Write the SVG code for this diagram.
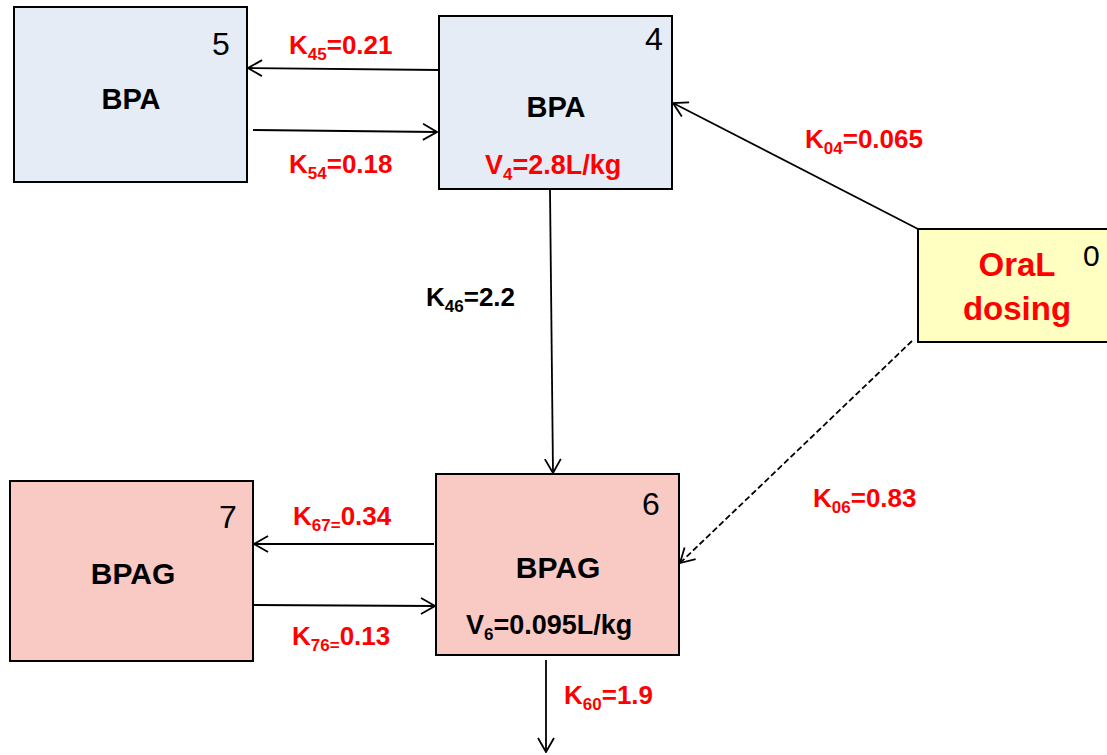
<svg xmlns="http://www.w3.org/2000/svg" width="1107" height="755" viewBox="0 0 1107 755">
<style>
.box{stroke:#000;stroke-width:2}
.blue{fill:#e6ecf5}
.pink{fill:#f9c9c4}
.yellow{fill:#ffffc1}
.t{font-family:"Liberation Sans",Arial,sans-serif;}
.name{font-size:29px;font-weight:bold;fill:#000;text-anchor:middle}
.num{font-size:32px;fill:#000}
.lbl{font-size:26px;font-weight:bold}
.red{fill:#ff0000}
.blk{fill:#000}
.sub{font-size:17px}
.ln{stroke:#000;stroke-width:1.8;fill:none}
.dash{stroke-dasharray:6,3}
</style>
<defs>
<marker id="arr" viewBox="0 0 16 18" refX="15" refY="9" markerWidth="16" markerHeight="18" markerUnits="userSpaceOnUse" orient="auto">
<path d="M1,1 L15,9 L1,17" fill="none" stroke="#000" stroke-width="1.8"/>
</marker>
</defs>
<rect width="1107" height="755" fill="#fff"/>
<g id="connectors">
<line class="ln" x1="439" y1="70" x2="248" y2="68" marker-end="url(#arr)"/>
<line class="ln" x1="253" y1="130" x2="437" y2="132" marker-end="url(#arr)"/>
<line class="ln" x1="550" y1="190" x2="553" y2="473" marker-end="url(#arr)"/>
<line class="ln" x1="918" y1="229" x2="673" y2="103" marker-end="url(#arr)"/>
<line class="ln dash" x1="912" y1="341" x2="680" y2="563" marker-end="url(#arr)"/>
<line class="ln" x1="434" y1="544" x2="254" y2="544" marker-end="url(#arr)"/>
<line class="ln" x1="253" y1="605" x2="435" y2="606" marker-end="url(#arr)"/>
<line class="ln" x1="546" y1="660" x2="546" y2="752" marker-end="url(#arr)"/>
</g>
<g id="labels" class="t">
<text class="lbl red" x="289" y="54">K<tspan class="sub" dy="6">45</tspan><tspan dy="-6">=0.21</tspan></text>
<text class="lbl red" x="289" y="173">K<tspan class="sub" dy="6">54</tspan><tspan dy="-6">=0.18</tspan></text>
<text class="lbl red" x="805" y="148">K<tspan class="sub" dy="6">04</tspan><tspan dy="-6">=0.065</tspan></text>
<text class="lbl blk" x="426" y="306">K<tspan class="sub" dy="6">46</tspan><tspan dy="-6">=2.2</tspan></text>
<text class="lbl red" x="813" y="507">K<tspan class="sub" dy="6">06</tspan><tspan dy="-6">=0.83</tspan></text>
<text class="lbl red" x="293" y="525">K<tspan class="sub" dy="6">67=</tspan><tspan dy="-6">0.34</tspan></text>
<text class="lbl red" x="292" y="645">K<tspan class="sub" dy="6">76=</tspan><tspan dy="-6">0.13</tspan></text>
<text class="lbl red" x="564" y="704">K<tspan class="sub" dy="6">60</tspan><tspan dy="-6">=1.9</tspan></text>
</g>
<g id="node5" class="t">
<rect class="box blue" x="14" y="7" width="233" height="175"/>
<text class="num" x="212" y="55">5</text>
<text class="name" x="131" y="109">BPA</text>
</g>
<g id="node4" class="t">
<rect class="box blue" x="439" y="16" width="233" height="173"/>
<text class="num" x="645" y="50">4</text>
<text class="name" x="556" y="117">BPA</text>
<text class="lbl red" x="485" y="174" style="font-size:27px">V<tspan class="sub" dy="6">4</tspan><tspan dy="-6">=2.8L/kg</tspan></text>
</g>
<g id="node0" class="t">
<rect class="box yellow" x="918" y="229" width="200" height="113"/>
<text class="num" x="1083" y="266" style="font-size:30px">0</text>
<text x="1017" y="276" style="font-size:33px;font-weight:bold;fill:#ff0000;text-anchor:middle">OraL</text>
<text x="1017" y="320" style="font-size:33px;font-weight:bold;fill:#ff0000;text-anchor:middle">dosing</text>
</g>
<g id="node6" class="t">
<rect class="box pink" x="436" y="474" width="243" height="181"/>
<text class="num" x="642" y="515">6</text>
<text class="name" x="558" y="578" style="font-size:30px">BPAG</text>
<text class="lbl blk" x="466" y="634" style="font-size:27px">V<tspan class="sub" dy="6">6</tspan><tspan dy="-6">=0.095L/kg</tspan></text>
</g>
<g id="node7" class="t">
<rect class="box pink" x="10" y="481" width="243" height="180"/>
<text class="num" x="219" y="528">7</text>
<text class="name" x="133" y="584" style="font-size:30px">BPAG</text>
</g>
</svg>
